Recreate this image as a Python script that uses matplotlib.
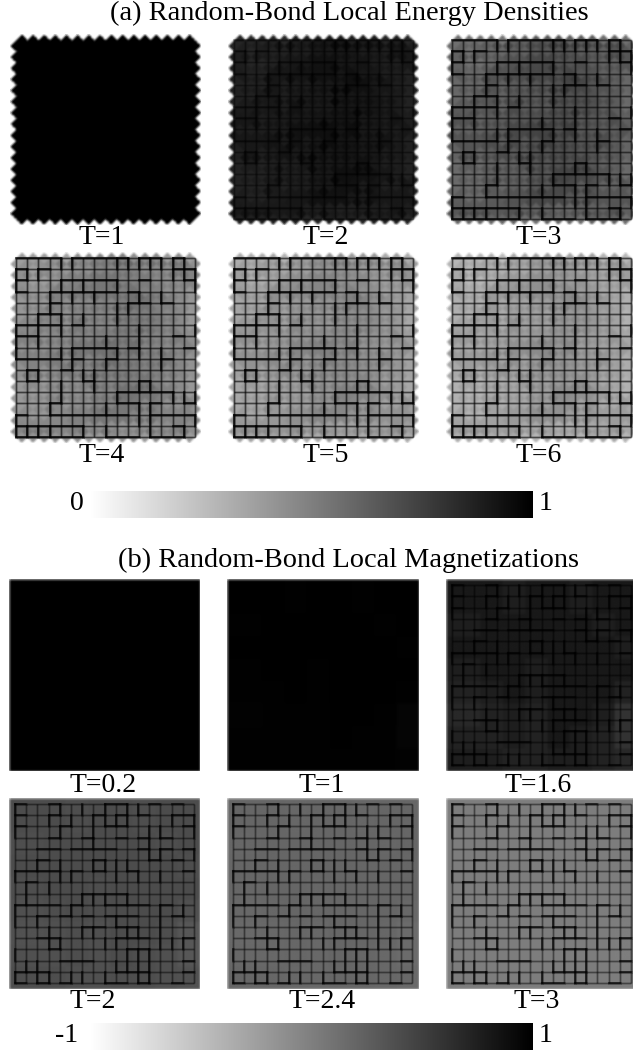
import matplotlib
matplotlib.use("Agg")
import matplotlib.pyplot as plt
import numpy as np

plt.rcParams['font.family'] = ['Liberation Serif', 'DejaVu Serif']

# strong bonds: (row, first column, last column)
energy_h = [(0, 0, 4), (0, 5, 10), (0, 11, 13), (0, 14, 15), (1, 0, 1), (1, 2, 3), (1, 14, 16),
            (2, 0, 1), (2, 4, 9), (2, 11, 12), (2, 15, 16), (3, 0, 1), (3, 3, 9), (3, 10, 11),
            (4, 3, 4), (4, 10, 12), (4, 13, 14), (5, 2, 4), (6, 0, 4), (6, 5, 6), (7, 0, 2),
            (7, 14, 15), (8, 5, 9), (8, 10, 11), (8, 15, 16), (9, 0, 4), (9, 5, 6), (9, 8, 9),
            (9, 13, 14), (10, 1, 2), (10, 4, 5), (11, 1, 2), (11, 6, 7), (11, 11, 12),
            (12, 9, 14), (13, 3, 4), (13, 9, 11), (13, 12, 13), (13, 15, 16), (14, 0, 1),
            (14, 3, 10), (14, 12, 16), (15, 0, 6), (15, 14, 15), (16, 0, 6), (16, 8, 11),
            (16, 12, 15)]
# (column, first row, last row)
energy_v = [(4, 0, 1), (5, 0, 1), (9, 0, 1), (10, 0, 1), (11, 0, 1), (12, 0, 1), (13, 0, 1),
            (14, 0, 2), (15, 0, 2), (0, 1, 3), (1, 1, 2), (2, 1, 2), (16, 1, 3), (4, 2, 3),
            (6, 2, 3), (9, 2, 3), (3, 3, 5), (5, 3, 4), (7, 3, 4), (11, 3, 4), (13, 3, 4),
            (9, 4, 6), (10, 4, 5), (2, 5, 8), (4, 5, 7), (6, 5, 6), (0, 6, 8), (16, 6, 7),
            (11, 6, 8), (8, 7, 8), (0, 8, 9), (4, 8, 9), (5, 8, 10), (9, 8, 9), (11, 8, 9),
            (13, 8, 10), (8, 9, 10), (1, 10, 11), (2, 10, 11), (6, 10, 11), (7, 10, 12),
            (4, 11, 13), (11, 11, 12), (12, 11, 12), (9, 12, 13), (14, 12, 13), (15, 12, 13),
            (16, 12, 13), (3, 13, 14), (8, 13, 14), (11, 13, 15), (12, 13, 16), (0, 14, 16),
            (16, 14, 15), (1, 15, 16), (2, 15, 16), (3, 15, 16), (6, 15, 16), (8, 15, 16),
            (15, 15, 16)]

mag_h = [(0, 0, 1), (0, 3, 4), (0, 8, 10), (0, 12, 13), (0, 14, 15), (1, 0, 1), (1, 3, 4),
         (1, 7, 8), (1, 9, 10), (1, 11, 12), (1, 14, 16), (2, 0, 1), (2, 4, 5), (2, 8, 10),
         (2, 15, 16), (3, 3, 4), (3, 6, 7), (3, 9, 10), (3, 11, 12), (3, 13, 14), (4, 2, 4),
         (4, 5, 9), (4, 11, 12), (4, 13, 14), (4, 15, 16), (5, 2, 3), (5, 7, 8), (5, 12, 13),
         (5, 14, 15), (6, 0, 4), (6, 5, 6), (6, 7, 8), (6, 10, 11), (6, 15, 16), (7, 1, 2),
         (8, 6, 10), (9, 0, 4), (9, 5, 6), (9, 8, 12), (9, 13, 14), (10, 2, 3), (10, 4, 5),
         (10, 6, 7), (10, 8, 11), (10, 14, 15), (11, 6, 8), (11, 9, 11), (12, 2, 4), (12, 9, 12),
         (12, 15, 16), (13, 3, 4), (13, 10, 12), (14, 4, 7), (14, 15, 16), (15, 0, 3), (15, 9, 12),
         (15, 15, 16), (16, 0, 1), (16, 2, 3), (16, 4, 5), (16, 8, 10), (16, 11, 12), (16, 14, 15)]
mag_v = [(0, 0, 3), (4, 0, 1), (6, 0, 1), (8, 0, 2), (10, 0, 2), (11, 0, 1), (3, 1, 2),
         (5, 1, 2), (7, 1, 3), (9, 1, 2), (14, 1, 2), (16, 1, 3), (4, 2, 3), (12, 2, 5),
         (13, 2, 3), (7, 3, 4), (13, 4, 5), (16, 4, 5), (2, 5, 6), (4, 5, 7), (7, 5, 6),
         (8, 5, 6), (9, 5, 7), (10, 5, 6), (0, 6, 7), (5, 6, 7), (11, 6, 7), (13, 6, 7),
         (3, 7, 8), (1, 7, 9), (6, 8, 9), (7, 8, 9), (8, 8, 9), (10, 8, 9), (0, 9, 11),
         (5, 9, 10), (13, 9, 13), (15, 9, 10), (2, 10, 11), (9, 10, 11), (3, 11, 13),
         (6, 11, 12), (7, 11, 12), (10, 11, 12), (11, 11, 12), (4, 12, 13), (8, 12, 13),
         (9, 12, 13), (14, 12, 13), (15, 12, 13), (0, 13, 14), (10, 13, 15), (11, 13, 16),
         (12, 13, 16), (1, 14, 15), (2, 14, 16), (9, 14, 15), (0, 15, 16), (3, 15, 16),
         (5, 15, 16), (6, 15, 16), (8, 15, 16)]

# how much lighter each part of the lattice is than the panel's mean level
energy_light = [[.08, .05, .02, -.02, -.03, .00, .02, .03],
                [.05, .02, .00, -.02, -.04, -.03, .02, .05],
                [.05, .03, -.01, -.01, -.04, -.04, .00, .06],
                [.02, .00, -.02, -.04, -.05, -.02, .00, .02],
                [.03, .00, -.01, -.04, -.05, -.03, .00, .04],
                [.06, .03, .02, -.02, -.04, -.02, .02, .06],
                [.06, .05, .02, -.02, -.02, .00, .03, .03],
                [.04, .04, .02, .02, .04, .02, .02, .02]]
mag_light = [[.00, .00, .01, .00, .00, .01, .00, .00],
             [.01, .00, .00, .00, .00, .00, .01, .00],
             [.00, .00, .00, .00, .00, .00, .00, .01],
             [.01, .00, .00, .01, .00, .00, .00, .00],
             [.02, .01, .00, .01, .00, .00, .00, .02],
             [.03, .02, .01, .02, .00, .00, .01, .05],
             [.02, .02, .01, .02, .00, .01, .02, .05],
             [.01, .01, .02, .02, .01, .01, .02, .03]]

energy_labels = ['T=1', 'T=2', 'T=3', 'T=4', 'T=5', 'T=6']
energy_levels = [1.0, 0.92, 0.70, 0.52, 0.46, 0.42]
energy_spread = [0.0, 0.5, 1.0, 1.0, 1.0, 1.0]
energy_thin = [0.0, 0.35, 0.5, 0.55, 0.55, 0.55]
energy_strong = [0.0, 0.25, 0.75, 0.8, 0.8, 0.8]

mag_labels = ['T=0.2', 'T=1', 'T=1.6', 'T=2', 'T=2.4', 'T=3']
mag_levels = [1.0, 0.995, 0.90, 0.70, 0.60, 0.51]
mag_spread = [0.0, 0.15, 1.0, 0.4, 0.2, 0.03]
mag_thin = [0.0, 0.0, 0.4, 0.4, 0.4, 0.4]
mag_strong = [0.0, 0.0, 0.65, 0.7, 0.7, 0.7]

N = 16
PER_CELL = 12
W, H = 633, 1057
EDGE = 0.55


def add_axes_px(left, top, right, bottom):
    ax = fig.add_axes([left / W, 1 - bottom / H, (right - left) / W, (bottom - top) / H])
    ax.axis('off')
    return ax


def blur(a):
    for _ in range(2):
        b = a.copy()
        for dx, dy in [(1, 0), (-1, 0), (0, 1), (0, -1)]:
            b = b + np.roll(np.roll(a, dx, 0), dy, 1)
        a = b / 5
    return a


def coarse(table, n):
    # stretch a small table over an n x n lattice
    t = np.array(table)
    idx = np.minimum(np.arange(n) * t.shape[0] // n, t.shape[0] - 1)
    return t[np.ix_(idx, idx)]


coords = (np.arange(int((N + 2 * EDGE) * PER_CELL)) + 0.5) / PER_CELL - EDGE
uu, vv = np.meshgrid(coords, coords)

# every bond of the energy panels owns one diamond, the tips are the teeth on the edge
bond_x = [i + 0.5 for j in range(N + 1) for i in range(N)] + [i for j in range(N) for i in range(N + 1)]
bond_y = [j for j in range(N + 1) for i in range(N)] + [j + 0.5 for j in range(N) for i in range(N + 1)]
bond_x = np.array(bond_x)
bond_y = np.array(bond_y)
nearest = np.full(uu.shape, np.inf)
owner = np.zeros(uu.shape, dtype=int)
for b in range(len(bond_x)):
    d = np.abs(uu - bond_x[b]) + np.abs(vv - bond_y[b])
    owner[d < nearest] = b
    nearest = np.minimum(nearest, d)
inside = nearest <= 0.5

is_strong = np.zeros(len(bond_x))
for row, a, b in energy_h:
    for i in range(a, b):
        is_strong[row * N + i] = 1
for col, a, b in energy_v:
    for j in range(a, b):
        is_strong[(N + 1) * N + j * (N + 1) + col] = 1
is_horizontal = np.arange(len(bond_x)) < (N + 1) * N
on_boundary = (bond_x == 0) | (bond_x == N) | (bond_y == 0) | (bond_y == N)


def energy_field(level, spread):
    light = coarse(energy_light, N + 1)
    cx = np.minimum(bond_x.astype(int), N)
    cy = np.minimum(bond_y.astype(int), N)
    vals = level - spread * (light[cy, cx] + 0.06 * is_horizontal
                             + 0.05 * on_boundary - 0.05 * is_strong)
    field = np.where(inside, np.clip(vals[owner], 0, 1), 0.0)
    return blur(field)


def mag_field(level, spread):
    light = coarse(mag_light, N + 1)
    si = np.clip(np.round(uu).astype(int), 0, N)
    sj = np.clip(np.round(vv).astype(int), 0, N)
    field = np.clip(level - spread * 2 * light[sj, si], 0, 1)
    field = np.where((np.abs(uu - N / 2) <= N / 2 + 0.5) & (np.abs(vv - N / 2) <= N / 2 + 0.5), field, 0.0)
    return blur(field)


def draw_panel(ax, field, h_bonds, v_bonds, thin, strong):
    ax.imshow(field, cmap='gray_r', vmin=0, vmax=1, aspect='auto', interpolation='bilinear',
              extent=(-EDGE, N + EDGE, N + EDGE, -EDGE))
    if thin > 0:
        grid = np.arange(N + 1)
        for lw, alpha in [(2.0, 0.25 * thin), (1.0, thin)]:
            ax.hlines(grid, 0, N, colors='k', lw=lw, alpha=alpha)
            ax.vlines(grid, 0, N, colors='k', lw=lw, alpha=alpha)
    if strong > 0:
        hr, ha, hb = zip(*h_bonds)
        vc, va, vb = zip(*v_bonds)
        for lw, alpha in [(2.2, 0.3 * strong), (1.1, strong)]:
            ax.hlines(hr, ha, hb, colors='k', lw=lw, alpha=alpha, capstyle='projecting')
            ax.vlines(vc, va, vb, colors='k', lw=lw, alpha=alpha, capstyle='projecting')
    ax.set_xlim(-EDGE, N + EDGE)
    ax.set_ylim(N + EDGE, -EDGE)


fig = plt.figure(figsize=(W / 100, H / 100), dpi=100, facecolor='white')

energy_boxes = [(10, 34, 201, 225), (228, 34, 419, 225), (446, 34, 637, 225),
                (10, 252, 201, 443), (228, 252, 419, 443), (446, 252, 637, 443)]
mag_boxes = [(9, 579, 200, 771), (227, 579, 418, 771), (446, 579, 637, 771),
             (9, 798, 200, 989), (227, 798, 418, 989), (446, 798, 637, 989)]
energy_text_pos = [(102, 237), (326, 237), (539, 237), (102, 455), (326, 455), (539, 455)]
mag_text_pos = [(103, 786), (322, 786), (538, 786), (93, 1002), (322, 1002), (537, 1002)]

for k in range(6):
    ax = add_axes_px(*energy_boxes[k])
    draw_panel(ax, energy_field(energy_levels[k], energy_spread[k]), energy_h, energy_v,
               energy_thin[k], energy_strong[k])
    x, y = energy_text_pos[k]
    fig.text(x / W, 1 - y / H, energy_labels[k], ha='center', va='center', fontsize=20)

    ax = add_axes_px(*mag_boxes[k])
    draw_panel(ax, mag_field(mag_levels[k], mag_spread[k]), mag_h, mag_v, mag_thin[k], mag_strong[k])
    x, y = mag_text_pos[k]
    fig.text(x / W, 1 - y / H, mag_labels[k], ha='center', va='center', fontsize=20)

fig.text(349 / W, 1 - 13 / H, '(a) Random-Bond Local Energy Densities', ha='center', va='center', fontsize=20.4)
fig.text(349 / W, 1 - 560 / H, '(b) Random-Bond Local Magnetizations', ha='center', va='center', fontsize=20.4)

ramp = np.linspace(0, 1, 256).reshape(1, -1)
for top, low, low_x in [(491, '0', 77), (1023, '-1', 67)]:
    ax = add_axes_px(90, top, 533, top + 27)
    ax.imshow(ramp, cmap='gray_r', vmin=0, vmax=1, aspect='auto', interpolation='bilinear')
    fig.text(low_x / W, 1 - (top + 13) / H, low, ha='center', va='center', fontsize=20)
    fig.text(546 / W, 1 - (top + 13) / H, '1', ha='center', va='center', fontsize=20)

fig.savefig('out.png', dpi=100)
